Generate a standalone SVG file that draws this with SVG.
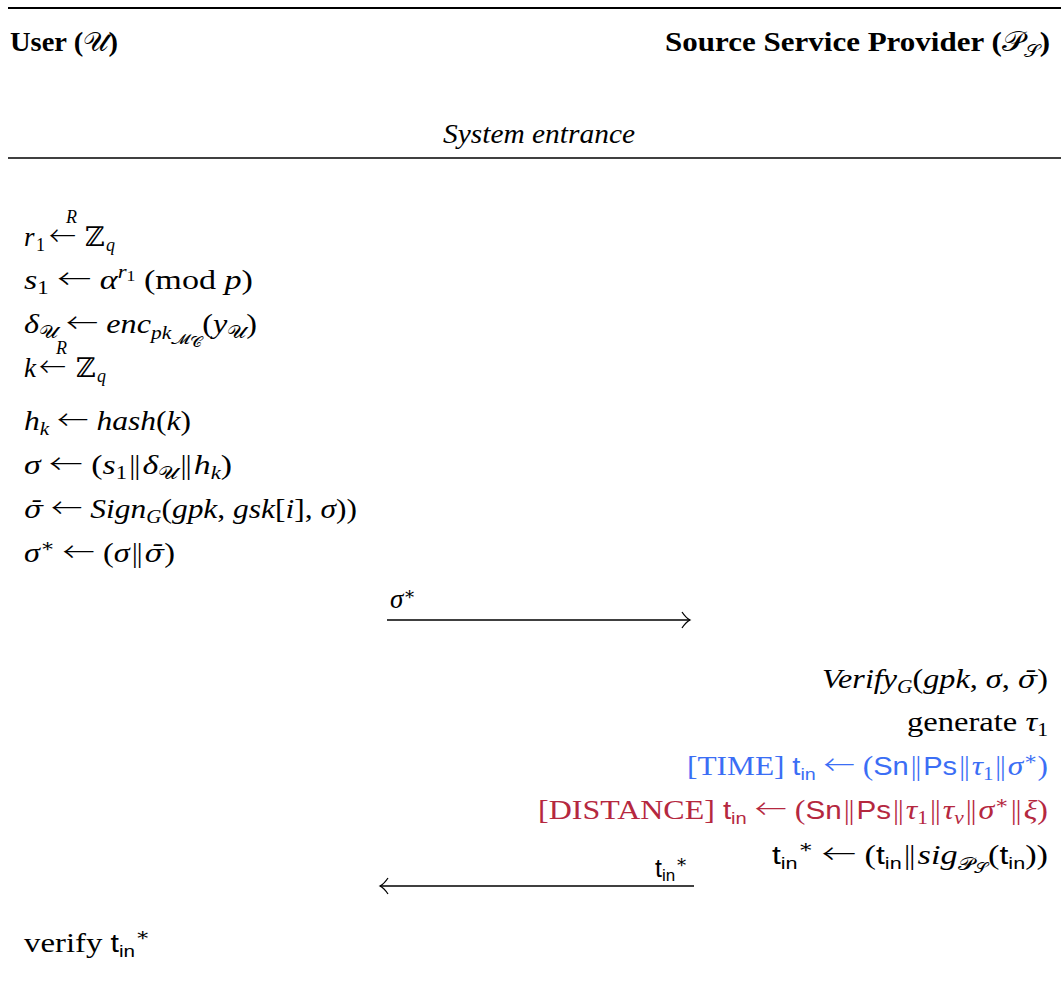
<svg xmlns="http://www.w3.org/2000/svg" width="1061" height="997" viewBox="0 0 1061 997">
<style>
text{font-family:"Liberation Serif","DejaVu Serif",serif;font-size:27px;fill:#000}
.b{font-weight:bold}
.i{font-style:italic}
.op{font-family:"Noto Sans CJK SC","DejaVu Sans",sans-serif;font-size:27px;font-style:normal;font-weight:300}
.pp{font-family:"DejaVu Sans",sans-serif;font-size:25px;font-style:normal;font-weight:200}
.bar{font-family:"DejaVu Serif",serif;font-style:italic;font-size:24px}
.dz{font-family:"DejaVu Serif",serif;font-size:27px}
.s{font-family:"Liberation Sans","DejaVu Sans",sans-serif;font-size:25px;font-style:normal}
.ss{font-family:"Liberation Sans","DejaVu Sans",sans-serif;font-size:17px;font-style:normal}
.sub{font-size:18px}
.sub2{font-size:14px}
.cal{font-family:"DejaVu Serif","Noto Sans",serif;font-style:normal;font-weight:normal}
.blue{fill:#3b6ef5}
.red{fill:#b5283f}
.rule{stroke:#000;fill:none}
.conn{stroke:#000;stroke-width:1.3;fill:none}
</style>
<defs>
<marker id="ah" markerWidth="14" markerHeight="20" refX="11" refY="10" orient="auto" markerUnits="userSpaceOnUse">
<path d="M3,2 Q7,8 11,10 Q7,12 3,18" fill="none" stroke="#000" stroke-width="1.3"/>
</marker>
</defs>
<g id="header">
<line class="rule" x1="8" y1="8" x2="1061" y2="8" stroke-width="2"/>
<text class="b" x="10" y="51" textLength="108" lengthAdjust="spacingAndGlyphs">User (<tspan class="cal i">𝒰</tspan>)</text>
<text class="b" x="1050" y="51" text-anchor="end" textLength="385" lengthAdjust="spacingAndGlyphs">Source Service Provider (<tspan class="cal">𝒫</tspan><tspan class="cal sub" dy="6">𝒮</tspan><tspan dy="-6">)</tspan></text>
<text class="i" x="443" y="143" textLength="192" lengthAdjust="spacingAndGlyphs">System entrance</text>
<line class="rule" x1="8" y1="158" x2="1061" y2="158" stroke-width="1.5"/>
</g>
<g id="user-steps">
<text x="24" y="246"><tspan class="i">r</tspan><tspan class="sub" x="36" y="251">1</tspan><tspan class="op" x="49" y="246">←</tspan><tspan class="i sub" x="66" y="223">R</tspan><tspan class="dz" x="85" y="246">ℤ</tspan><tspan class="i sub" x="106" y="251">q</tspan></text>
<text x="24" y="289" textLength="229" lengthAdjust="spacingAndGlyphs"><tspan class="i">s</tspan><tspan class="sub" dy="5">1</tspan><tspan dy="-5"> </tspan><tspan class="op">←</tspan> <tspan class="i">α</tspan><tspan class="i sub" dy="-11">r</tspan><tspan class="sub2" dy="3">1</tspan><tspan dy="8">  (mod </tspan><tspan class="i">p</tspan>)</text>
<text x="24" y="333" textLength="233" lengthAdjust="spacingAndGlyphs"><tspan class="i">δ</tspan><tspan class="cal sub" dy="5">𝒰</tspan><tspan dy="-5"> </tspan><tspan class="op">←</tspan> <tspan class="i">enc</tspan><tspan class="i sub" dy="6">pk</tspan><tspan class="cal sub2" dy="5">𝓜</tspan><tspan class="cal sub2" dy="3">𝒞</tspan><tspan dy="-14">(</tspan><tspan class="i">y</tspan><tspan class="cal sub" dy="5">𝒰</tspan><tspan dy="-5">)</tspan></text>
<text x="24" y="377"><tspan class="i">k</tspan><tspan class="op" x="39" y="377">←</tspan><tspan class="i sub" x="56" y="354">R</tspan><tspan class="dz" x="76" y="377">ℤ</tspan><tspan class="i sub" x="97" y="382">q</tspan></text>
<text x="24" y="430" textLength="167" lengthAdjust="spacingAndGlyphs"><tspan class="i">h</tspan><tspan class="i sub" dy="5">k</tspan><tspan dy="-5"> </tspan><tspan class="op">←</tspan> <tspan class="i">hash</tspan>(<tspan class="i">k</tspan>)</text>
<text x="24" y="474" textLength="208" lengthAdjust="spacingAndGlyphs"><tspan class="i">σ</tspan> <tspan class="op">←</tspan> (<tspan class="i">s</tspan><tspan class="sub" dy="5">1</tspan><tspan class="pp" dy="-5">‖</tspan><tspan class="i">δ</tspan><tspan class="cal sub" dy="5">𝒰</tspan><tspan class="pp" dy="-5">‖</tspan><tspan class="i">h</tspan><tspan class="i sub" dy="5">k</tspan><tspan dy="-5">)</tspan></text>
<text x="24" y="518" textLength="333" lengthAdjust="spacingAndGlyphs"><tspan class="bar">σ̄</tspan> <tspan class="op">←</tspan> <tspan class="i">Sign</tspan><tspan class="i sub" dy="5">G</tspan><tspan dy="-5">(</tspan><tspan class="i">gpk</tspan>, <tspan class="i">gsk</tspan>[<tspan class="i">i</tspan>], <tspan class="i">σ</tspan>))</text>
<text x="24" y="562" textLength="151" lengthAdjust="spacingAndGlyphs"><tspan class="i">σ</tspan><tspan class="sub" dy="-10">∗</tspan><tspan dy="10"> </tspan><tspan class="op">←</tspan> (<tspan class="i">σ</tspan><tspan class="pp">‖</tspan><tspan class="bar">σ̄</tspan>)</text>
<text x="24" y="952" textLength="126" lengthAdjust="spacingAndGlyphs">verify <tspan class="s">t</tspan><tspan class="ss" dy="5">in</tspan><tspan class="sub" dy="-16">∗</tspan></text>
</g>
<g id="provider-steps">
<text x="1048" y="688" text-anchor="end" textLength="226" lengthAdjust="spacingAndGlyphs"><tspan class="i">Verify</tspan><tspan class="i sub" dy="5">G</tspan><tspan dy="-5">(</tspan><tspan class="i">gpk</tspan>, <tspan class="i">σ</tspan>, <tspan class="bar">σ̄</tspan>)</text>
<text x="1048" y="731" text-anchor="end" textLength="141" lengthAdjust="spacingAndGlyphs">generate <tspan class="i">τ</tspan><tspan class="sub" dy="5">1</tspan></text>
<text class="blue" x="1048" y="775" text-anchor="end" textLength="361" lengthAdjust="spacingAndGlyphs">[TIME] <tspan class="s">t</tspan><tspan class="ss" dy="5">in</tspan><tspan dy="-5"> </tspan><tspan class="op">←</tspan> (<tspan class="s">Sn</tspan><tspan class="pp">‖</tspan><tspan class="s">Ps</tspan><tspan class="pp">‖</tspan><tspan class="i">τ</tspan><tspan class="sub" dy="5">1</tspan><tspan class="pp" dy="-5">‖</tspan><tspan class="i">σ</tspan><tspan class="sub" dy="-10">∗</tspan><tspan dy="10">)</tspan></text>
<text class="red" x="1048" y="819" text-anchor="end" textLength="510" lengthAdjust="spacingAndGlyphs">[DISTANCE] <tspan class="s">t</tspan><tspan class="ss" dy="5">in</tspan><tspan dy="-5"> </tspan><tspan class="op">←</tspan> (<tspan class="s">Sn</tspan><tspan class="pp">‖</tspan><tspan class="s">Ps</tspan><tspan class="pp">‖</tspan><tspan class="i">τ</tspan><tspan class="sub" dy="5">1</tspan><tspan class="pp" dy="-5">‖</tspan><tspan class="i">τ</tspan><tspan class="i sub" dy="5">v</tspan><tspan class="pp" dy="-5">‖</tspan><tspan class="i">σ</tspan><tspan class="sub" dy="-10">∗</tspan><tspan class="pp" dy="10">‖</tspan><tspan class="i">ξ</tspan>)</text>
<text x="1048" y="864" text-anchor="end" textLength="276" lengthAdjust="spacingAndGlyphs"><tspan class="s">t</tspan><tspan class="ss" dy="5">in</tspan><tspan class="sub" dy="-16">∗</tspan><tspan dy="11"> </tspan><tspan class="op">←</tspan> (<tspan class="s">t</tspan><tspan class="ss" dy="5">in</tspan><tspan class="pp" dy="-5">‖</tspan><tspan class="i">sig</tspan><tspan class="cal sub" dy="6">𝒫</tspan><tspan class="cal sub2" dy="3">𝒮</tspan><tspan dy="-9">(</tspan><tspan class="s">t</tspan><tspan class="ss" dy="5">in</tspan><tspan dy="-5">))</tspan></text>
</g>
<g id="connectors">
<line class="conn" x1="387" y1="620" x2="690" y2="620" marker-end="url(#ah)"/>
<text class="i" x="390" y="608" font-size="21px">σ<tspan class="sub" dy="-8" font-style="normal" font-size="15px">∗</tspan></text>
<line class="conn" x1="694" y1="886" x2="380" y2="886" marker-end="url(#ah)"/>
<text x="655" y="877"><tspan class="s" font-size="19px">t</tspan><tspan class="ss" font-size="13px" dy="4">in</tspan><tspan class="sub" font-size="15px" dy="-13">∗</tspan></text>
</g>
</svg>
